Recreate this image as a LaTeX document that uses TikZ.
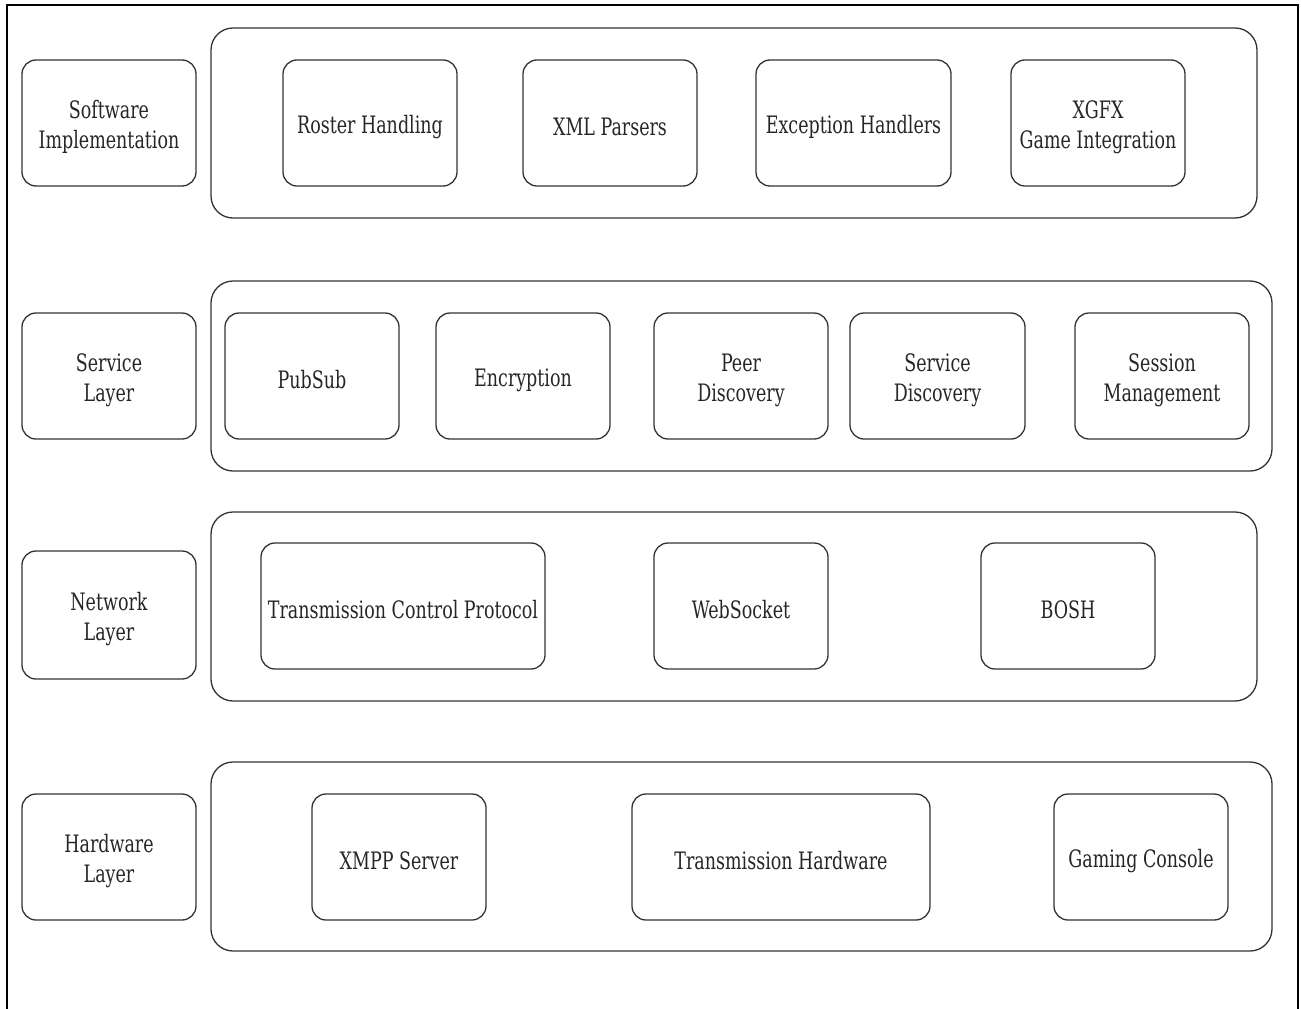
\documentclass[tikz,border=0pt]{standalone}
\usepackage{fontspec}
\setmainfont{DejaVu Serif Condensed}[FakeStretch=0.81]
\begin{document}
\begin{tikzpicture}[x=1pt,y=-1pt,
  box/.style={draw=black!80,line width=1.3pt,rounded corners=14pt},
  cont/.style={draw=black!80,line width=1.3pt,rounded corners=22pt},
  lbl/.style={font=\fontsize{24}{30}\selectfont,align=center,text=black!85,yshift=-4pt}]
\useasboundingbox (0,0) rectangle (1301,1009);
\fill[white] (0,0) rectangle (1301,1009);
\draw[line width=1.5pt] (7,1009) -- (7,5) -- (1298,5) -- (1298,1009);
% helper macro
\newcommand{\bx}[6]{\draw[box] (#2,#3) rectangle (#4,#5);
  \node[lbl] (#1) at ({(#2+#4)/2},{(#3+#5)/2}) {#6};}
% containers
\draw[cont] (211,28) rectangle (1257,218);
\draw[cont] (211,281) rectangle (1272,471);
\draw[cont] (211,512) rectangle (1257,701);
\draw[cont] (211,762) rectangle (1272,951);
% left labels
\bx{sw}{22}{60}{196}{186}{Software\\Implementation}
\bx{sv}{22}{313}{196}{439}{Service\\Layer}
\bx{nw}{22}{551}{196}{679}{Network\\Layer}
\bx{hw}{22}{794}{196}{920}{Hardware\\Layer}
% row 1
\bx{r1}{283}{60}{457}{186}{Roster Handling}
\bx{r2}{523}{60}{697}{186}{XML Parsers}
\bx{r3}{756}{60}{951}{186}{Exception Handlers}
\bx{r4}{1011}{60}{1185}{186}{XGFX\\Game Integration}
% row 2
\bx{s1}{225}{313}{399}{439}{PubSub}
\bx{s2}{436}{313}{610}{439}{Encryption}
\bx{s3}{654}{313}{828}{439}{Peer\\Discovery}
\bx{s4}{850}{313}{1025}{439}{Service\\Discovery}
\bx{s5}{1075}{313}{1249}{439}{Session\\Management}
% row 3
\bx{n1}{261}{543}{545}{669}{Transmission Control Protocol}
\bx{n2}{654}{543}{828}{669}{WebSocket}
\bx{n3}{981}{543}{1155}{669}{BOSH}
% row 4
\bx{h1}{312}{794}{486}{920}{XMPP Server}
\bx{h2}{632}{794}{930}{920}{Transmission Hardware}
\bx{h3}{1054}{794}{1228}{920}{Gaming Console}
\end{tikzpicture}
\end{document}
